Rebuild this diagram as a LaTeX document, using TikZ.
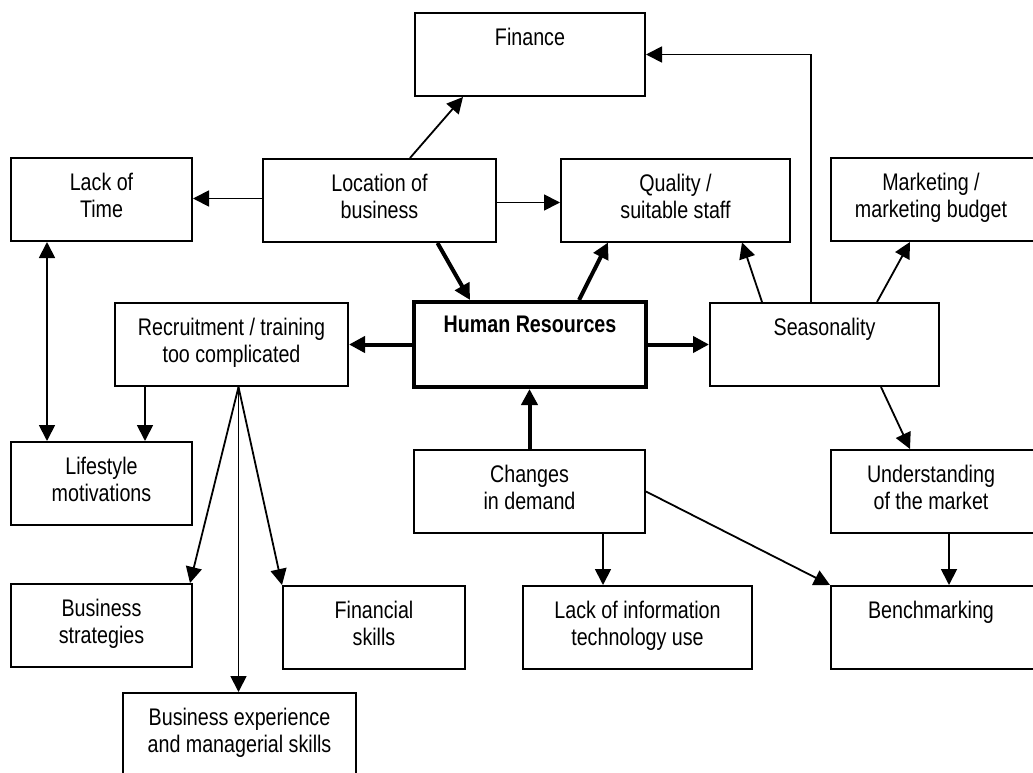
\documentclass[tikz,border=0pt]{standalone}
\usepackage{fontspec}
\setmainfont{Liberation Sans}[FakeStretch=0.82]
\usetikzlibrary{positioning,arrows.meta}

\begin{document}
\begin{tikzpicture}[x=1pt, y=-1pt,
    every node/.style={font=\fontsize{24}{27}\selectfont},
    box/.style={draw, line width=2pt, inner sep=0pt, minimum height=83pt},
    hrbox/.style={box, line width=4pt, minimum height=85pt},
    lbl/.style={anchor=north, yshift=-16pt, align=center, inner sep=0pt},
    arr/.style={-{Triangle[length=16pt,width=16pt]}, line width=1.8pt},
    dbl/.style={{Triangle[length=16pt,width=16pt]}-{Triangle[length=16pt,width=16pt]}, line width=1.8pt},
    thk/.style={-{Triangle[length=16pt,width=16pt]}, line width=4pt}]
  \useasboundingbox (0,0) rectangle (1033,773);
  \clip (0,0) rectangle (1033,773);
  \node[box, minimum width=230pt, label={[lbl]north:Finance}] (fin) at (530,54.5) {};
  \node[box, minimum width=181pt, label={[lbl]north:{Lack of\\Time}}] (time) at (101.5,199.5) {};
  \node[box, minimum width=233pt, label={[lbl]north:{Location of\\business}}] (loc) at (379.5,200.5) {};
  \node[box, minimum width=229pt, label={[lbl]north:{Quality /\\suitable staff}}] (qual) at (675.5,200) {};
  \node[box, minimum width=205pt, label={[lbl,xshift=-2.5pt]north:{Marketing /\\marketing budget}}] (mkt) at (933.5,199.5) {};
  \node[box, minimum width=233pt, label={[lbl]north:{Recruitment / training\\too complicated}}] (rec) at (231.5,344.5) {};
  \node[hrbox, minimum width=232pt, label={[lbl]north:\textbf{Human Resources}}] (hr) at (530,344.5) {};
  \node[box, minimum width=229pt, label={[lbl]north:Seasonality}] (seas) at (824.5,344.5) {};
  \node[box, minimum width=181pt, label={[lbl]north:{Lifestyle\\motivations}}] (life) at (101.5,483.5) {};
  \node[box, minimum width=231pt, label={[lbl]north:{Changes\\in demand}}] (chg) at (529.5,491.5) {};
  \node[box, minimum width=205pt, label={[lbl,xshift=-2.5pt]north:{Understanding\\of the market}}] (und) at (933.5,491.5) {};
  \node[box, minimum width=181pt, label={[lbl]north:{Business\\strategies}}] (strat) at (101.5,625.5) {};
  \node[box, minimum width=182pt, label={[lbl]north:{Financial\\skills}}] (fsk) at (374,627.5) {};
  \node[box, minimum width=229pt, label={[lbl]north:{Lack of information\\technology use}}] (it) at (637.5,627.5) {};
  \node[box, minimum width=205pt, label={[lbl,xshift=-2.5pt]north:Benchmarking}] (bench) at (933.5,627.5) {};
  \node[box, minimum width=233pt, label={[lbl]north:{Business experience\\and managerial skills}}] (exp) at (239.5,734.5) {};
  \coordinate (fan) at ([xshift=7pt]rec.south);
  \draw[arr] ([xshift=30.5pt]loc.north) -- ([xshift=-67pt]fin.south);
  \draw[arr] ([yshift=2pt]loc.west) -- ([yshift=2pt]loc.west -| time.east);
  \draw[arr] ([yshift=-2pt]loc.east) -- ([yshift=-2pt]loc.east -| qual.west);
  \draw[thk] ([xshift=58pt]loc.south) -- ([xshift=-60pt]hr.north);
  \draw[thk] ([xshift=49pt]hr.north) -- ([xshift=-67.5pt]qual.south);
  \draw[arr] ([xshift=-62.5pt]seas.north) -- ([xshift=66.5pt]qual.south);
  \draw[arr] ([xshift=-13.5pt]seas.north) |- (fin.east);
  \draw[arr] ([xshift=52.5pt]seas.north) -- ([xshift=-23.5pt]mkt.south);
  \draw[thk] (hr.west) -- (hr.west -| rec.east);
  \draw[thk] (hr.east) -- (hr.east -| seas.west);
  \draw[thk] (chg.north) -- (chg.north |- hr.south);
  \draw[dbl] ([xshift=-54.5pt]time.south) -- ([xshift=-54.5pt]life.north);
  \draw[arr] ([xshift=-86.5pt]rec.south) -- ([xshift=-86.5pt]rec.south |- life.north);
  \draw[arr] (fan) -- ([xshift=-3pt]strat.north east);
  \draw[arr] (fan) -- (fan |- exp.north);
  \draw[arr] (fan) -- (fsk.north west);
  \draw[arr] ([xshift=56.5pt]seas.south) -- ([xshift=-23.5pt]und.north);
  \draw[arr] ([xshift=73.5pt]chg.south) -- ([xshift=73.5pt]chg.south |- it.north);
  \draw[arr] (chg.east) -- (bench.north west);
  \draw[arr] ([xshift=15.5pt]und.south) -- ([xshift=15.5pt]und.south |- bench.north);
\end{tikzpicture}
\end{document}
